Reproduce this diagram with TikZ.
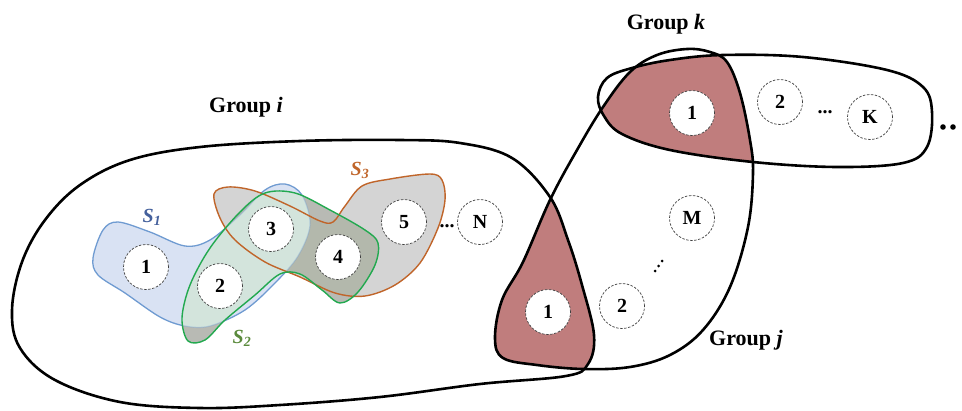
\documentclass[tikz,border=0pt]{standalone}
\usepackage{fontspec}
\setmainfont{Liberation Serif}
\definecolor{redfill}{HTML}{C07D7D}
\definecolor{sonefill}{HTML}{D9E2F3}
\definecolor{sonestroke}{HTML}{6F9BD1}
\definecolor{stwofill}{HTML}{B8BAB4}
\definecolor{stwostroke}{HTML}{22A94F}
\definecolor{sthreefill}{HTML}{D4D4D4}
\definecolor{sthreestroke}{HTML}{C0652A}
\definecolor{stwothree}{HTML}{B3B8AC}
\definecolor{sonetwo}{HTML}{D3E4DC}
\definecolor{sonelabel}{HTML}{44609C}
\definecolor{stwolabel}{HTML}{5A8A3C}
\newcommand\pathGi{plot[smooth cycle, tension=0.6] coordinates{(200,147) (300,141) (400,140) (460,143) (512,158) (550,197) (568,240) (582,285) (594,335) (588,364) (566,376) (480,384) (380,397) (280,405) (200,408) (120,402) (55,380) (20,348) (12,310) (22,262) (45,220) (80,185) (130,160)}}
\newcommand\pathGj{plot[smooth cycle, tension=0.6] coordinates{(503,358) (495,338) (502,300) (523,262) (550,200) (577,150) (603,107) (630,72) (657,55) (687,49) (710,52) (727,62) (740,93) (750,140) (753,173) (748,227) (730,287) (703,330) (670,355) (630,367) (583,369) (537,365)}}
\newcommand\pathGk{plot[smooth cycle, tension=0.6] coordinates{(598,97) (604,116) (622,134) (670,150) (753,162) (837,167) (903,163) (927,147) (932,112) (923,87) (887,70) (803,57) (723,55) (670,60) (632,68) (607,78)}}
\newcommand\pathSa{plot[smooth cycle, tension=0.55] coordinates{(93,258) (103,230) (118,222) (150,232) (185,246) (210,240) (240,215) (265,190) (285,184) (302,195) (310,225) (298,256) (275,283) (245,310) (210,326) (185,326) (160,317) (125,293) (98,275)}}
\newcommand\pathSb{plot[smooth cycle, tension=0.55] coordinates{(188,341) (205,340) (225,320) (255,295) (280,274) (300,274) (322,290) (340,303) (358,292) (375,265) (378,243) (365,230) (330,210) (295,193) (265,193) (240,212) (210,248) (190,285) (182,318)}}
\newcommand\pathSc{plot[smooth cycle, tension=0.55] coordinates{(214,194) (228,187) (255,191) (290,206) (320,221) (333,222) (345,206) (362,186) (390,179) (430,174) (442,180) (445,200) (438,228) (420,263) (395,285) (365,296) (335,293) (300,277) (265,262) (235,240) (220,218)}}
\begin{document}
\begin{tikzpicture}[x=1pt,y=-1pt,
  grp/.style={draw=black, line width=2.6pt},
  memb/.style={circle, draw=black!75, dash pattern=on 2.5pt off 1.5pt, line width=0.7pt, fill=white, minimum size=45pt, inner sep=0pt, font=\fontsize{20}{20}\selectfont\bfseries},
  glabel/.style={font=\fontsize{22}{22}\selectfont\bfseries, inner sep=0pt},
  slabel/.style={font=\fontsize{20}{20}\selectfont\bfseries\itshape, inner sep=0pt},
  dotsl/.style={font=\fontsize{20}{20}\selectfont\bfseries, inner sep=0pt}]
\useasboundingbox (0,0) rectangle (962,410);
% red intersections
\begin{scope}\clip \pathGk; \fill[redfill] \pathGj; \end{scope}
\begin{scope}\clip \pathGi; \fill[redfill] \pathGj; \end{scope}
% groups
\draw[grp] \pathGi;
\draw[grp] \pathGj;
\draw[grp] \pathGk;
% sets
\fill[sonefill] \pathSa;
\draw[sonestroke, line width=1.3pt] \pathSa;
\fill[sthreefill] \pathSc;
\draw[sthreestroke, line width=1.4pt] \pathSc;
\fill[stwofill] \pathSb;
\begin{scope}\clip \pathSb; \fill[stwothree] \pathSc; \end{scope}
\begin{scope}\clip \pathSb; \fill[sonetwo] \pathSa; \end{scope}
\begin{scope}\clip \pathSb; \draw[sonestroke, line width=1.2pt, opacity=0.35] \pathSa; \end{scope}
\begin{scope}\clip \pathSb; \draw[sthreestroke, line width=1.4pt] \pathSc; \end{scope}
\draw[stwostroke, line width=1.4pt] \pathSb;
% members
\node[memb] (i1) at (146,267) {1};
\node[memb] (i2) at (220,286) {2};
\node[memb] (i3) at (271,229) {3};
\node[memb] (i4) at (338,257) {4};
\node[memb] (i5) at (404,222) {5};
\node[memb] (iN) at (480,222) {N};
\node[memb] (j1) at (548,312) {1};
\node[memb] (j2) at (622,306) {2};
\node[memb] (jM) at (692,218) {M};
\node[memb] (k1) at (692,113) {1};
\node[memb] (k2) at (780,102) {2};
\node[memb] (kK) at (870,117) {K};
% dots
\node[dotsl, anchor=base] (d1) at (447,227) {...};
\node[dotsl, anchor=base] (d2) at (825,113) {...};
\fill (655,271) circle (1.5);
\fill (658.5,266) circle (1.5);
\fill (662,261) circle (1.5);
\fill (943,127) circle (2.8);
\fill (953,127) circle (2.8);
% labels
\node[glabel] (li) at (246,107) {Group \textit{i}};
\node[glabel] (lk) at (666,24) {Group \textit{k}};
\node[glabel] (lj) at (746,340) {Group \textit{j}};
\node[slabel, text=sonelabel] (s1) at (152,217) {S\textsubscript{1}};
\node[slabel, text=stwolabel] (s2) at (242,338) {S\textsubscript{2}};
\node[slabel, text=sthreestroke] (s3) at (360,170) {S\textsubscript{3}};
\end{tikzpicture}
\end{document}
